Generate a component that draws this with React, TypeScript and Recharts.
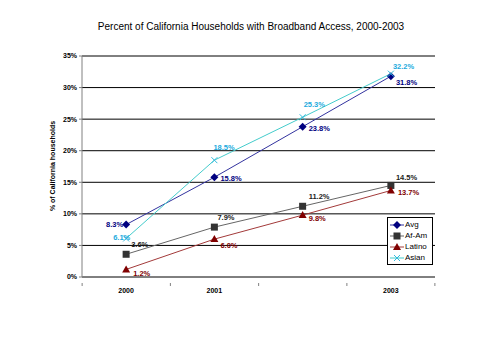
import React from 'react';
import { LineChart, Line, XAxis, YAxis, CartesianGrid, LabelList } from 'recharts';

const years = ['2000', '2001', '2002', '2003'];
const yearLabels = ['2000', '2001', '', '2003'];
const avg = [8.3, 15.8, 23.8, 31.8];
const afAm = [3.6, 7.9, 11.2, 14.5];
const latino = [1.2, 6.0, 9.8, 13.7];
const asian = [6.1, 18.5, 25.3, 32.2];
const yTicks = [0, 5, 10, 15, 20, 25, 30, 35];

const data = years.map((y, i) => ({ year: y, avg: avg[i], afAm: afAm[i], latino: latino[i], asian: asian[i] }));

const FONT = '"Liberation Sans", Arial, sans-serif';

const series = [
  { key: 'avg', name: 'Avg', line: '#33339f', mark: '#000080', text: '#000080', shape: 'diamond' },
  { key: 'afAm', name: 'Af-Am', line: '#666666', mark: '#333333', text: '#222222', shape: 'square' },
  { key: 'latino', name: 'Latino', line: '#a33a3a', mark: '#800000', text: '#800000', shape: 'triangle' },
  { key: 'asian', name: 'Asian', line: '#44cccc', mark: '#33bbdd', text: '#22aadd', shape: 'x' },
];

function Marker({ shape, cx, cy, color }: any) {
  if (cx == null || cy == null) return null;
  if (shape === 'diamond') return <polygon points={`${cx},${cy - 4} ${cx + 4},${cy} ${cx},${cy + 4} ${cx - 4},${cy}`} fill={color} />;
  if (shape === 'square') return <rect x={cx - 3.5} y={cy - 3.5} width={7} height={7} fill={color} />;
  if (shape === 'triangle') return <polygon points={`${cx},${cy - 4} ${cx + 4},${cy + 3} ${cx - 4},${cy + 3}`} fill={color} />;
  return (
    <g stroke={color} strokeWidth={1}>
      <line x1={cx - 3} y1={cy - 3} x2={cx + 3} y2={cy + 3} />
      <line x1={cx - 3} y1={cy + 3} x2={cx + 3} y2={cy - 3} />
    </g>
  );
}

// label offsets per series & point index [dx, dy, anchor]
const labelPos: Record<string, [number, number, string][]> = {
  avg: [[-3, 2, 'end'], [6, 3.5, 'start'], [6, 4.5, 'start'], [5, 8.5, 'start']],
  afAm: [[5, -7, 'start'], [3, -7, 'start'], [6, -7, 'start'], [5, -5, 'start']],
  latino: [[7, 6.5, 'start'], [6, 9, 'start'], [6, 6, 'start'], [7, 5, 'start']],
  asian: [[-13, 1.5, 'start'], [-1, -10, 'start'], [1, -10.5, 'start'], [2, -5, 'start']],
};

function makeLabel(key: string, color: string) {
  return (props: any) => {
    const { x, y, value, index } = props;
    const p = labelPos[key][index];
    return (
      <text x={x + p[0]} y={y + p[1]} textAnchor={p[2] as any} fontSize={7.5} fontWeight="bold" fill={color} fontFamily={FONT}>
        {`${Number(value).toFixed(1)}%`}
      </text>
    );
  };
}

function XTick(props: any) {
  const { x, y, index, payload } = props;
  const half = 44;
  const isLast = index === years.length - 1;
  return (
    <g>
      <line x1={x - half} y1={y - 2} x2={x - half} y2={y + 1} stroke="#808080" />
      {isLast && <line x1={x + half} y1={y - 2} x2={x + half} y2={y + 1} stroke="#808080" />}
      <text x={x} y={y + 8} textAnchor="middle" fontSize={7} fontWeight="bold" fill="#000" fontFamily={FONT}>
        {yearLabels[years.indexOf(payload.value)]}
      </text>
    </g>
  );
}

function LegendBox() {
  return (
    <div style={{ position: 'absolute', left: 387, top: 217, width: 40, border: '1px solid #000', background: '#fff', padding: '1px 2px', fontFamily: FONT, fontSize: 8 }}>
      {series.map((s) => (
        <div key={s.key} style={{ display: 'flex', alignItems: 'center', height: 11, whiteSpace: 'nowrap' }}>
          <svg width={14} height={10} style={{ marginRight: 1, flex: 'none' }}>
            <line x1={0} y1={5} x2={14} y2={5} stroke={s.line} strokeWidth={1} />
            <Marker shape={s.shape} cx={7} cy={5} color={s.mark} />
          </svg>
          <span style={{ color: '#000' }}>{s.name}</span>
        </div>
      ))}
    </div>
  );
}

export default function App() {
  return (
    <div style={{ position: 'absolute', left: 0, top: 0, width: 480, height: 360, background: '#fff' }}>
      <div style={{ position: 'absolute', left: 0, top: 21, width: 502, textAlign: 'center', fontFamily: FONT, fontSize: 10, color: '#000' }}>
        Percent of California Households with Broadband Access, 2000-2003
      </div>
      <div style={{ position: 'absolute', left: 52, top: 166, transform: 'translate(-50%, -50%) rotate(-90deg)', whiteSpace: 'nowrap', fontFamily: FONT, fontSize: 7, fontWeight: 'bold' }}>
        % of California households
      </div>
      <LineChart width={480} height={360} data={data} margin={{ top: 56, right: 45, bottom: 63, left: 20 }}>
        <CartesianGrid vertical={false} stroke="#000" strokeWidth={1} />
        <XAxis dataKey="year" scale="band" axisLine={{ stroke: '#808080' }} tickLine={false} tick={<XTick />} interval={0} height={20} />
        <XAxis xAxisId="top" dataKey="year" scale="band" orientation="top" axisLine={{ stroke: '#a0a0a0' }} tick={false} tickLine={false} height={0} />
        <YAxis domain={[0, 35]} ticks={yTicks} width={62} axisLine={{ stroke: '#808080' }} tickLine={{ stroke: '#808080' }} tickSize={3}
          tickFormatter={(v: number) => `${v}%`} tick={{ fontSize: 7, fontWeight: 'bold', fill: '#000', fontFamily: FONT }} />
        <YAxis yAxisId="right" orientation="right" domain={[0, 35]} axisLine={{ stroke: '#a0a0a0' }} tick={false} tickLine={false} width={0} />
        {series.map((s) => (
          <Line key={s.key} type="linear" dataKey={s.key} name={s.name} stroke={s.line} strokeWidth={1}
            dot={(p: any) => <Marker key={`${s.key}-${p.index}`} shape={s.shape} cx={p.cx} cy={p.cy} color={s.mark} />}
            isAnimationActive={false}>
            <LabelList dataKey={s.key} content={makeLabel(s.key, s.text)} />
          </Line>
        ))}
      </LineChart>
      <LegendBox />
    </div>
  );
}
